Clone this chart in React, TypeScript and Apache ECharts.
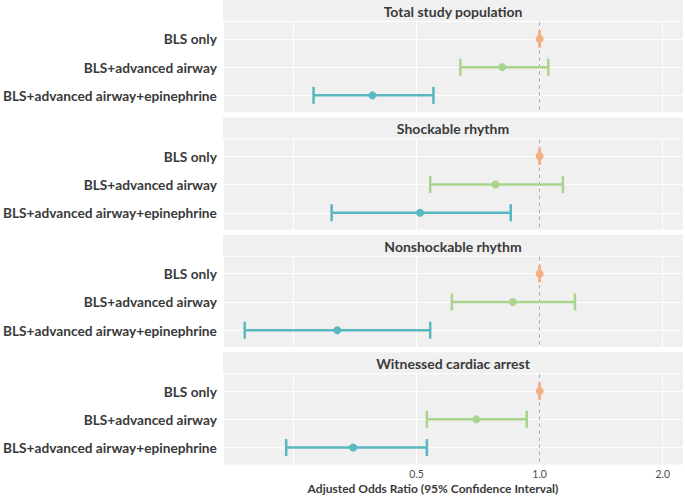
import React, { useEffect, useRef } from "react";
import * as echarts from "echarts";

const panels = [
  "Total study population",
  "Shockable rhythm",
  "Nonshockable rhythm",
  "Witnessed cardiac arrest",
];
const categories = ["BLS only", "BLS+advanced airway", "BLS+advanced airway+epinephrine"];
const colors = ["#F4AE82", "#A8D48C", "#58B8C0"];
const estimates = [
  [1.0, 0.81, 0.39],
  [1.0, 0.78, 0.51],
  [1.0, 0.86, 0.32],
  [1.0, 0.7, 0.35],
];
const lower = [
  [1.0, 0.64, 0.28],
  [1.0, 0.54, 0.31],
  [1.0, 0.61, 0.19],
  [1.0, 0.53, 0.24],
];
const upper = [
  [1.0, 1.05, 0.55],
  [1.0, 1.14, 0.85],
  [1.0, 1.22, 0.54],
  [1.0, 0.93, 0.53],
];
const gridTicks = [0.25, 0.5, 1, 2];
const labelTicks = [0.5, 1, 2];
const xLimits = [0.169, 2.242];
const refValue = 1;
const xTitle = "Adjusted Odds Ratio (95% Confidence Interval)";

const FONT = "Lato, 'Open Sans', sans-serif";
const L = 223;
const W = 460;
const STRIP_H = 21;
const BODY_H = 91.3;
const PERIOD = 117.4;

export default function App() {
  const ref = useRef<HTMLDivElement>(null);
  useEffect(() => {
    document.body.style.margin = "0";
    const chart = echarts.init(ref.current!, null, { renderer: "svg" });
    const log2 = (v: number) => Math.log2(v);
    const grids: any[] = [];
    const xAxes: any[] = [];
    const yAxes: any[] = [];
    const series: any[] = [];
    const graphics: any[] = [];
    panels.forEach((name, i) => {
      const top = i * PERIOD;
      graphics.push({
        type: "rect",
        shape: { x: L, y: top, width: W, height: STRIP_H },
        style: { fill: "#F0F0F0" },
        silent: true,
      });
      graphics.push({
        type: "text",
        x: L + W / 2,
        y: top + STRIP_H / 2 + 1,
        style: {
          text: name,
          fill: "#3a3a3a",
          font: `bold 14px ${FONT}`,
          textAlign: "center",
          textVerticalAlign: "middle",
        },
      });
      grids.push({
        left: L,
        width: W,
        top: top + STRIP_H + 1,
        height: BODY_H - 1,
        show: true,
        backgroundColor: "#F0F0F0",
        borderWidth: 0,
      });
      xAxes.push({
        type: "value",
        gridIndex: i,
        min: log2(xLimits[0]),
        max: log2(xLimits[1]),
        axisLine: { show: false },
        axisTick: { show: false, customValues: gridTicks.map(log2) },
        axisLabel: {
          show: i === panels.length - 1,
          customValues: labelTicks.map(log2),
          formatter: (v: number) => Math.pow(2, v).toFixed(1),
          color: "#4d4d4d",
          fontFamily: FONT,
          fontSize: 10.5,
          margin: 4,
        },
        splitLine: { show: true, lineStyle: { color: "#ffffff", width: 1 } },
      });
      yAxes.push({
        type: "value",
        gridIndex: i,
        min: 0.4,
        max: 3.6,
        inverse: true,
        axisLine: { show: false },
        axisTick: { show: false, customValues: [1, 2, 3] },
        axisLabel: {
          customValues: [1, 2, 3],
          formatter: (v: number) => categories[Math.round(v) - 1] ?? "",
          color: "#3a3a3a",
          fontFamily: FONT,
          fontWeight: "bold",
          fontSize: 13.7,
          margin: 7,
        },
        splitLine: { show: true, lineStyle: { color: "#ffffff", width: 1 } },
      });
      series.push({
        type: "custom",
        xAxisIndex: i,
        yAxisIndex: i,
        encode: { x: [0, 1], y: 2 },
        data: categories.map((_, k) => [log2(lower[i][k]), log2(upper[i][k]), k + 1, k]),
        renderItem: (params: any, api: any) => {
          const lo = api.coord([api.value(0), api.value(2)]);
          const hi = api.coord([api.value(1), api.value(2)]);
          const c = colors[api.value(3)];
          const h = 8.5;
          const style = { stroke: c, lineWidth: 2.5 };
          return {
            type: "group",
            children: [
              { type: "line", shape: { x1: lo[0], y1: lo[1], x2: hi[0], y2: hi[1] }, style },
              { type: "line", shape: { x1: lo[0], y1: lo[1] - h, x2: lo[0], y2: lo[1] + h }, style },
              { type: "line", shape: { x1: hi[0], y1: hi[1] - h, x2: hi[0], y2: hi[1] + h }, style },
            ],
          };
        },
        z: 3,
      });
      series.push({
        type: "scatter",
        xAxisIndex: i,
        yAxisIndex: i,
        symbolSize: 8,
        data: categories.map((_, k) => ({
          value: [log2(estimates[i][k]), k + 1],
          itemStyle: { color: colors[k], opacity: 1 },
        })),
        z: 4,
        markLine: {
          silent: true,
          symbol: "none",
          label: { show: false },
          lineStyle: { color: "#b0b0b0", type: [4, 3], width: 1 },
          data: [{ xAxis: log2(refValue) }],
          z: 2,
        },
      });
    });
    graphics.push({
      type: "text",
      x: 433,
      y: 488,
      style: {
        text: xTitle,
        fill: "#3a3a3a",
        font: `bold 12px ${FONT}`,
        textAlign: "center",
        textVerticalAlign: "middle",
      },
    });
    chart.setOption({
      animation: false,
      backgroundColor: "#ffffff",
      grid: grids,
      xAxis: xAxes,
      yAxis: yAxes,
      series,
      graphic: graphics,
    });
    return () => chart.dispose();
  }, []);
  return <div ref={ref} style={{ width: 685, height: 496 }} />;
}
